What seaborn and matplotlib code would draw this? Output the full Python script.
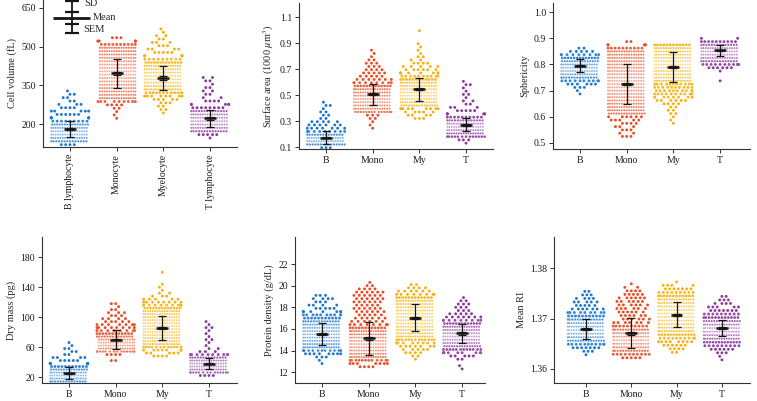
import numpy as np
import pandas as pd
import matplotlib
matplotlib.use("Agg")
import matplotlib.pyplot as plt
import seaborn as sns
from matplotlib.colors import to_rgb

sns.set_theme(style="ticks")
plt.rcParams["font.family"] = ["Liberation Serif", "DejaVu Serif"]
plt.rcParams["mathtext.fontset"] = "stix"

long_names = ["B lymphocyte", "Monocyte", "Myelocyte", "T lymphocyte"]
short_names = ["B", "Mono", "My", "T"]
group_colors = ["#1f78d0", "#e84f27", "#f5b20f", "#8d3a9e"]

# ---------------- Cell volume (fL) : row histogram ----------------
vol_step = 13
vol_start = [120, 222, 243, 146]
vol_counts = [
    [4, 14, 16, 16, 16, 16, 15, 9, 7, 6, 5, 4, 3, 2, 2, 2, 1],
    [1, 1, 1, 2, 4, 9] + [16] * 16 + [10, 6, 3],
    [1, 2, 2, 3, 5, 8, 12] + [16] * 8 + [13, 9, 6, 5, 4, 3, 3, 2, 2, 1, 1],
    [1, 5, 14, 16, 16, 16, 16, 16, 14, 8, 5, 4, 2, 2, 2, 2, 1, 2, 2],
]
vol_mean = [180, 396, 378, 222]
vol_sd = [31, 56, 48, 33]
vol_sem = [4, 6, 6, 5]

# ---------------- Surface area (1000 um^3) ----------------
area_step = 0.025
area_start = [0.095, 0.245, 0.32, 0.13]
area_counts = [
    [3, 14, 16, 16, 14, 9, 7, 6, 5, 2, 2, 2, 1, 2, 1],
    [1, 1, 1, 2, 3, 14] + [16] * 7 + [13, 9, 7, 5, 5, 4, 3, 3, 2, 1, 1, 1],
    [3, 4, 5, 8, 15] + [16] * 7 + [12, 10, 8, 6, 5, 4, 2, 2, 1, 1, 1, 1, 0, 0, 0, 1],
    [1, 3, 13, 16, 16, 16, 16, 14, 10, 6, 5, 3, 2, 2, 1, 2, 1, 1, 2, 1],
]
area_mean = [0.172, 0.505, 0.544, 0.27]
area_sd = [0.05, 0.08, 0.09, 0.05]
area_sem = [0.006, 0.008, 0.009, 0.007]

# ---------------- Sphericity ----------------
sph_step = 0.0125
sph_start = [0.6875, 0.525, 0.575, 0.7375]
sph_counts = [
    [1, 1, 3, 6, 10, 14, 16, 16, 16, 16, 15, 13, 9, 5, 2],
    [3, 2, 3, 3, 4, 5, 6, 15] + [16] * 19 + [10, 5, 2],
    [1, 1, 1, 2, 2, 2, 4, 6, 9, 10, 10, 10, 11, 16] + [16] * 10 + [12],
    [1, 0, 0, 1, 6, 10, 14, 16, 16, 16, 16, 14, 10, 2],
]
sph_mean = [0.796, 0.726, 0.791, 0.854]
sph_sd = [0.025, 0.077, 0.057, 0.02]
sph_sem = [0.003, 0.005, 0.005, 0.003]

# ---------------- Dry mass (pg) ----------------
mass_step = 4
mass_start = [14, 42, 48, 22]
mass_counts = [
    [14, 16, 16, 16, 15, 11, 8, 5, 4, 2, 2, 2, 1, 1],
    [2, 0, 4, 14, 16, 16, 16, 16, 14, 12, 10, 8, 7, 5, 4, 3, 3, 2, 1, 2],
    [4, 5, 9, 13, 16] + [16] * 11 + [13, 10, 8, 5, 3, 2, 1, 1, 1, 0, 0, 0, 1],
    [4, 14, 16, 16, 16, 16, 14, 10, 3, 2, 1, 1, 2, 1, 1, 1, 2, 1, 1],
]
mass_mean = [25, 70, 85, 38]
mass_sd = [8, 13, 16, 7]
mass_sem = [1.0, 1.2, 1.4, 1.0]

# ---------------- Protein density (g/dL) ----------------
dens_step = 0.3
dens_start = [12.8, 12.5, 13.2, 12.3]
dens_counts = [
    [1, 1, 3, 8, 13, 16, 16, 16, 16, 16, 16, 16, 16, 14, 11, 10, 8, 5, 4, 3, 4, 3],
    [4, 7, 12, 16] + [16] * 8 + [12, 8, 6, 6, 5, 6, 6, 5, 6, 6, 6, 6, 4, 2, 1],
    [1, 2, 4, 5, 7, 9, 13, 16] + [16] * 11 + [12, 8, 6, 4, 2],
    [1, 1, 0, 2, 5, 9, 12, 15, 16, 16, 16, 16, 16, 16, 13, 9, 7, 5, 3, 3, 3, 2, 1],
]
dens_mean = [15.52, 15.12, 17.03, 15.58]
dens_sd = [1.05, 1.55, 1.24, 0.84]
dens_sem = [0.1, 0.12, 0.11, 0.1]

# ---------------- Mean RI ----------------
ri_step = 0.0007
ri_start = [1.3628, 1.3622, 1.3633, 1.3618]
ri_counts = [
    [1, 3, 7, 11, 15, 16, 16, 16, 16, 16, 14, 11, 9, 7, 5, 5, 4, 3, 2],
    [5, 10, 14, 16, 16, 16, 16, 16, 14, 10, 7, 6, 6, 6, 6, 6, 6, 6, 5, 4, 2, 1],
    [2, 4, 6, 8, 10, 13] + [16] * 10 + [12, 9, 7, 4, 1],
    [1, 1, 3, 6, 9, 13, 16, 16, 16, 16, 16, 15, 12, 9, 7, 5, 4, 3, 2],
]
ri_mean = [1.36794, 1.36706, 1.3708, 1.36814]
ri_sd = [0.002, 0.003, 0.0024, 0.0016]
ri_sem = [0.0002, 0.00025, 0.0002, 0.0002]

# ------------------------------------------------------------------
W, H = 757, 401
DPI = 100
fig = plt.figure(figsize=(W / DPI, H / DPI), dpi=DPI)


def px_axes(l, r, t, b):
    return fig.add_axes([l / W, 1 - b / H, (r - l) / W, (b - t) / H])


def mix_white(c, f):
    r, g, b = to_rgb(c)
    return (r + (1 - r) * f, g + (1 - g) * f, b + (1 - b) * f)


EC = "#161616"
resize_jobs = []  # (collection, drawn sizes)


def pt2(d_px):
    return (d_px * 72.0 / DPI) ** 2


def row_shade(cnt):
    """lightness of each row: dense core lighter toward its middle"""
    cnt = np.asarray(cnt)
    dense = np.where(cnt >= 14)[0]
    out = []
    for k, c in enumerate(cnt):
        if c >= 14 and len(dense) > 1:
            mid = 0.5 * (dense[0] + dense[-1])
            half = max(0.5 * (dense[-1] - dense[0]), 1.0)
            t = 1 - min(abs(k - mid) / half, 1.0)
            f = 0.22 + 0.33 * t
        elif c >= 9:
            f = 0.12
        else:
            f = 0.0
        out.append(int(round(f * 20)))  # quantised level (x 0.05)
    return out


def panel(ax, start, step, counts, mean, sd, sem, names, ylabel, ylim, yticks,
          yfmt, xlim, rot=0):
    rows = []
    pal = {}
    for name, col, s, cnt in zip(names, group_colors, start, counts):
        lv = row_shade(cnt)
        for k, c in enumerate(cnt):
            key = f"{name}|{lv[k]}"
            pal[key] = mix_white(col, lv[k] / 20)
            rows += [(name, s + k * step, key)] * c
    df = pd.DataFrame(rows, columns=["cat", "val", "shade"])
    n0 = len(ax.collections)
    sns.swarmplot(data=df, x="cat", y="val", hue="shade", palette=pal,
                  order=names, size=2, linewidth=0, legend=False, ax=ax,
                  warn_thresh=1)
    ax.set_ylim(*ylim)
    ax.set_xlim(*xlim)
    # per-point marker sizes: sparse rows spread a little, dense rows packed finely
    for coll in ax.collections[n0:]:
        off = np.asarray(coll.get_offsets())
        if off.shape[0] == 0:
            continue
        gi = int(round(off[0, 0]))
        k = np.rint((off[:, 1] - start[gi]) / step).astype(int)
        c = np.array(counts[gi])[k].astype(float)
        place = np.minimum(4.1, 36.6 / c)
        drawn = np.where(c >= 14, 0.86 * place, np.minimum(2.9, 0.92 * place))
        coll.set_sizes(pt2(place))
        resize_jobs.append((coll, pt2(drawn)))

    pos = np.arange(len(names))
    ax.errorbar(pos, mean, yerr=sd, fmt="none", ecolor=EC, elinewidth=0.9,
                capsize=2.6, capthick=0.9, zorder=5)
    ax.errorbar(pos, mean, yerr=sem, fmt="none", ecolor=EC, elinewidth=0.9,
                capsize=2.6, capthick=0.9, zorder=5)
    ax.errorbar(pos, mean, xerr=0.13, fmt="none", ecolor=EC, elinewidth=1.8,
                zorder=6)
    ax.set_yticks(yticks)
    ax.set_yticklabels([yfmt.format(v) for v in yticks])
    ax.set_xlabel("")
    ax.set_ylabel(ylabel, fontsize=7.5, labelpad=3)
    if rot:
        ax.set_xticks(pos)
        ax.set_xticklabels(names, rotation=90, va="top", ha="center")
    for s in ["top", "right"]:
        ax.spines[s].set_visible(False)
    for s in ["left", "bottom"]:
        ax.spines[s].set_color("#333333")
        ax.spines[s].set_linewidth(0.8)
    ax.tick_params(axis="both", labelsize=7, length=3, width=0.7,
                   color="#333333", pad=2, labelcolor="#1a1a1a")
    ax.set_facecolor("none")


ax1 = px_axes(43, 237, 0, 147)
panel(ax1, vol_start, vol_step, vol_counts, vol_mean, vol_sd, vol_sem,
      long_names, "Cell volume (fL)", (111, 680), [200, 350, 500, 650], "{:g}",
      (-0.578, 3.578), rot=90)

ax2 = px_axes(299, 493, 3, 149)
panel(ax2, area_start, area_step, area_counts, area_mean, area_sd, area_sem,
      short_names, r"Surface area (1000 $\mu$m$^3$)", (0.085, 1.208),
      [0.1, 0.3, 0.5, 0.7, 0.9, 1.1], "{:.1f}", (-0.578, 3.578))

ax3 = px_axes(553, 750, 3, 149)
panel(ax3, sph_start, sph_step, sph_counts, sph_mean, sph_sd, sph_sem,
      short_names, "Sphericity", (0.477, 1.035),
      [0.5, 0.6, 0.7, 0.8, 0.9, 1.0], "{:.1f}", (-0.578, 3.64))

ax4 = px_axes(42, 237, 237, 383)
panel(ax4, mass_start, mass_step, mass_counts, mass_mean, mass_sd, mass_sem,
      short_names, "Dry mass (pg)", (12, 207), [20, 60, 100, 140, 180], "{:g}",
      (-0.578, 3.6))

ax5 = px_axes(295, 485, 237, 383)
panel(ax5, dens_start, dens_step, dens_counts, dens_mean, dens_sd, dens_sem,
      short_names, "Protein density (g/dL)", (11.0, 24.5),
      [12, 14, 16, 18, 20, 22], "{:g}", (-0.578, 3.49))

ax6 = px_axes(554, 750, 237, 383)
panel(ax6, ri_start, ri_step, ri_counts, ri_mean, ri_sd, ri_sem,
      short_names, "Mean RI", (1.3572, 1.3862), [1.36, 1.37, 1.38], "{:.2f}",
      (-0.706, 3.62))

# legend glyph (SD / Mean / SEM) in panel 1
tr = ax1.transAxes
kw = dict(transform=tr, color=EC, clip_on=False, solid_capstyle="butt")
xc, cw = 0.149, 0.036
ax1.plot([xc, xc], [0.776, 0.993], lw=1.3, **kw)
for yy in (0.993, 0.776, 0.918, 0.837):
    ax1.plot([xc - cw, xc + cw], [yy, yy], lw=1.6, **kw)
ax1.plot([0.052, 0.242], [0.878, 0.878], lw=2.0, **kw)
ax1.text(0.214, 0.975, "SD", transform=tr, fontsize=7.5, va="center", ha="left")
ax1.text(0.255, 0.880, "Mean", transform=tr, fontsize=7.5, va="center", ha="left")
ax1.text(0.206, 0.800, "SEM", transform=tr, fontsize=7.5, va="center", ha="left")

# first draw lays out the swarms with the placement sizes; then shrink markers
fig.canvas.draw()
for coll, sizes in resize_jobs:
    if "draw" in coll.__dict__:
        del coll.draw
    coll.set_sizes(sizes)

fig.savefig("out.png", dpi=DPI, facecolor="white")
